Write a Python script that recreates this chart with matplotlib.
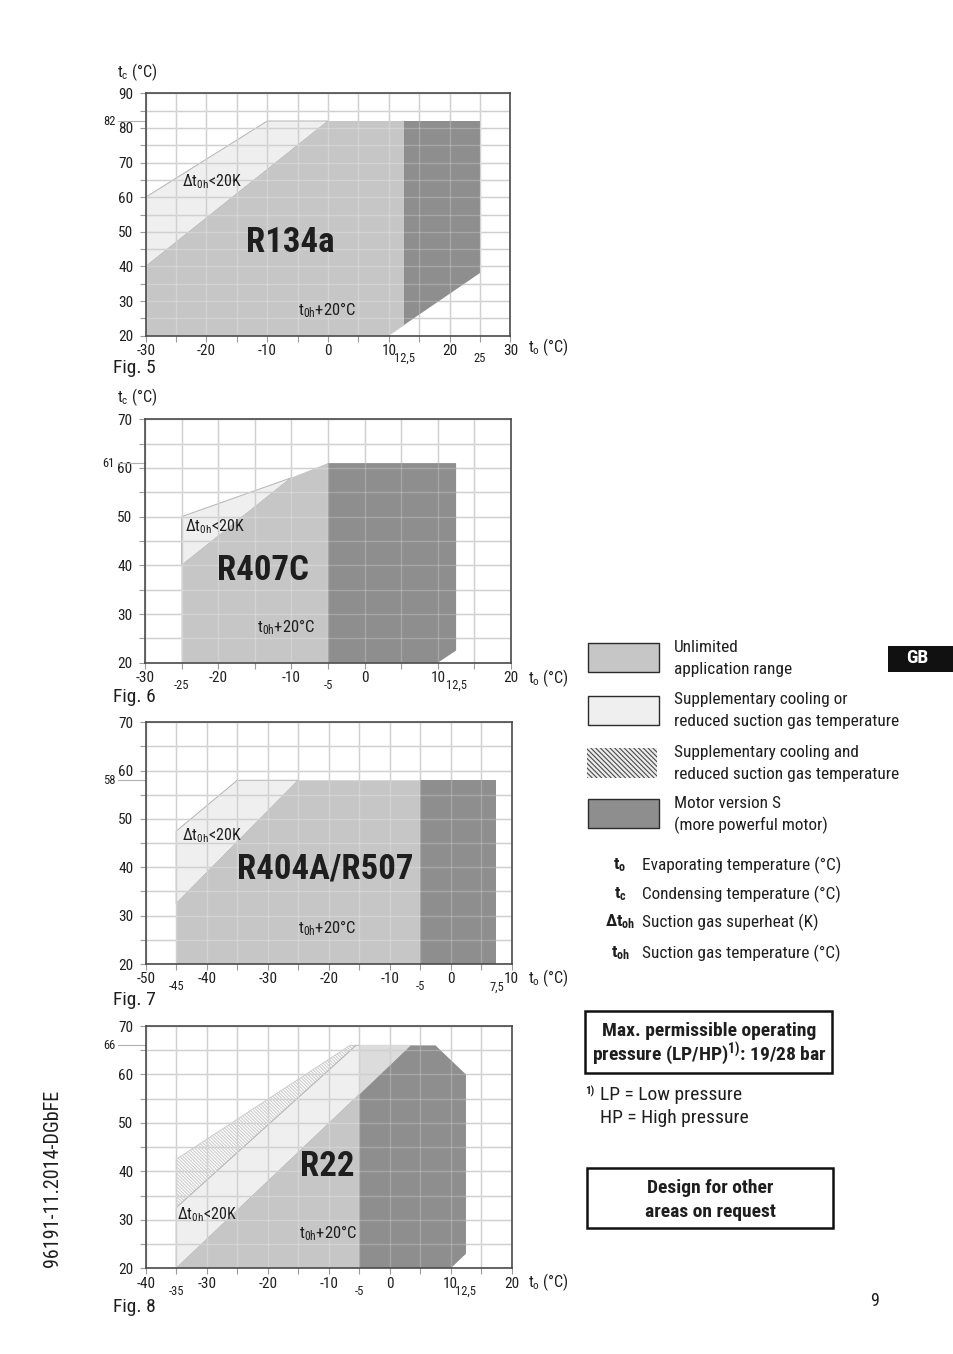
import matplotlib
matplotlib.use('Agg')
import numpy as np
import matplotlib.pyplot as plt
from matplotlib import font_manager
from matplotlib.patches import Polygon, Rectangle
from matplotlib.transforms import blended_transform_factory

# pick a narrow sans face if one exists
fonts = [(f.name, f.stretch) for f in font_manager.fontManager.ttflist]
names = {n for n, _ in fonts}
FONT, STRETCH = 'Roboto', 'normal'
for cand in ('Liberation Sans Narrow', 'Roboto Condensed', 'Open Sans Condensed'):
    if cand in names:
        FONT = cand
        break
else:
    for n, st in fonts:
        if n in ('Roboto', 'DejaVu Sans') and st in ('condensed', 'semi-condensed', 500, 'semicondensed'):
            FONT, STRETCH = n, st
            break

plt.rcParams['font.family'] = [FONT, 'DejaVu Sans']
plt.rcParams['font.stretch'] = STRETCH
plt.rcParams['mathtext.fontset'] = 'custom'
plt.rcParams['mathtext.rm'] = FONT
plt.rcParams['mathtext.it'] = FONT
plt.rcParams['mathtext.bf'] = FONT + ':bold'
plt.rcParams['hatch.linewidth'] = 0.8

W, H = 954, 1354

# shades
UNLIM = '#c6c6c6'
SUPP = '#efefef'
SUPP2 = '#dcdcdc'
MOTOR = '#8e8e8e'
GRID = '#c4c4c4'
INK = '#1e1e1e'

# Fig. 5 - R134a  (t_o, t_c) corner points
r134a_xlim = (-30, 30)
r134a_ylim = (20, 90)
r134a_supp = [(-30, 40), (-30, 60), (-10, 82), (0, 82)]
r134a_unlim = [(-30, 20), (-30, 40), (0, 82), (12.5, 82), (12.5, 23), (10, 20)]
r134a_motor = [(12.5, 23), (12.5, 82), (25, 82), (25, 38)]
r134a_marks = [12.5, 25]
r134a_tcmax = 82

# Fig. 6 - R407C
r407c_xlim = (-30, 20)
r407c_ylim = (20, 70)
r407c_supp = [(-25, 40), (-25, 50), (-10, 58)]
r407c_unlim = [(-25, 20), (-25, 40), (-10, 58), (-5, 61), (-5, 20)]
r407c_motor = [(-5, 20), (-5, 61), (12.5, 61), (12.5, 22.5), (10, 20)]
r407c_marks = [-25, -5, 12.5]
r407c_tcmax = 61

# Fig. 7 - R404A/R507
r404a_xlim = (-50, 10)
r404a_ylim = (20, 70)
r404a_supp = [(-45, 32.5), (-45, 47.5), (-35, 58), (-25, 58)]
r404a_unlim = [(-45, 20), (-45, 32.5), (-25, 58), (-5, 58), (-5, 20)]
r404a_motor = [(-5, 20), (-5, 58), (7.5, 58), (7.5, 20)]
r404a_marks = [-45, -5, 7.5]
r404a_tcmax = 58

# Fig. 8 - R22
r22_xlim = (-40, 20)
r22_ylim = (20, 70)
r22_hatch = [(-35, 32.5), (-35, 42.5), (-6.5, 66), (-5.5, 66)]
r22_supp = [(-35, 20), (-35, 32.5), (-5.5, 66), (3.5, 66)]
r22_supp2 = [(-5, 55.8), (-5, 66), (3.5, 66)]
r22_unlim = [(-35, 20), (-5, 55.8), (-5, 20)]
r22_motor = [(-5, 20), (-5, 55.8), (3.5, 66), (7.5, 66), (12.5, 60), (12.5, 23), (10, 20)]
r22_marks = [-35, -5, 12.5]
r22_tcmax = 66

legend_labels = [
    ('Unlimited', 'application range'),
    ('Supplementary cooling or', 'reduced suction gas temperature'),
    ('Supplementary cooling and', 'reduced suction gas temperature'),
    ('Motor version S', '(more powerful motor)'),
]
symbols = [r't$_\mathbf{o}$', r't$_\mathbf{c}$', r'Δt$_\mathbf{oh}$', r't$_\mathbf{oh}$']
symbol_texts = ['Evaporating temperature (°C)', 'Condensing temperature (°C)',
                'Suction gas superheat (K)', 'Suction gas temperature (°C)']

fig = plt.figure(figsize=(W / 100, H / 100), dpi=100)


def ftext(px, py, s, **kw):
    kw.setdefault('va', 'center')
    kw.setdefault('color', INK)
    fig.text(px / W, 1 - py / H, s, **kw)


def chart(box, xlim, ylim, tcmax, marks):
    left, top, right, bottom = box
    ax = fig.add_axes([left / W, 1 - bottom / H, (right - left) / W, (bottom - top) / H])
    ax.set_xlim(*xlim)
    ax.set_ylim(*ylim)
    xt = np.arange(xlim[0], xlim[1] + 1, 5)
    yt = np.arange(ylim[0], ylim[1] + 1, 5)
    ax.set_xticks(xt)
    ax.set_xticklabels([str(v) if v % 10 == 0 else '' for v in xt])
    ax.set_yticks(yt)
    ax.set_yticklabels([str(v) if v % 10 == 0 else '' for v in yt])
    ax.tick_params(length=4, width=0.8, color='#9a9a9a', labelsize=11, labelcolor=INK)
    ax.tick_params(axis='y', pad=5)
    ax.tick_params(axis='x', pad=2)
    for v in xt:
        ax.axvline(v, color=GRID, lw=1.0, zorder=1)
        ax.axvline(v, color='white', alpha=0.22, lw=1.0, zorder=3)
    for v in yt:
        ax.axhline(v, color=GRID, lw=1.0, zorder=1)
        ax.axhline(v, color='white', alpha=0.22, lw=1.0, zorder=3)
    for s in ax.spines.values():
        s.set_color('#4a4a4a')
        s.set_linewidth(1.2)
        s.set_zorder(6)
    ax.set_facecolor('white')
    tr = blended_transform_factory(ax.transAxes, ax.transData)
    ax.plot([-0.075, 0], [tcmax, tcmax], transform=tr, color='#b0b0b0', lw=0.8, clip_on=False)
    ax.text(-0.1, tcmax, str(tcmax), transform=tr, ha='center', va='center', fontsize=9, color=INK)
    trx = blended_transform_factory(ax.transData, ax.transAxes)
    for v in marks:
        ax.annotate(f'{v:g}'.replace('.', ','), xy=(v, 0), xycoords=trx, xytext=(0, -16.5),
                    textcoords='offset points', ha='center', va='center', fontsize=9, color=INK)
    return ax


def fill(ax, pts, color, z=2, edge='none', **kw):
    ax.add_patch(Polygon(pts, closed=True, facecolor=color, edgecolor=edge, lw=0.7, zorder=z, **kw))


def labels(ax, name, npos, dpos, tpos, size=25):
    ax.text(*npos, name, fontsize=size, fontweight='bold', ha='left', va='center', color=INK, zorder=5)
    ax.text(*dpos, r'Δt$_{\mathregular{0h}}$<20K', fontsize=11.5, ha='left', va='center', color=INK, zorder=5)
    ax.text(*tpos, r't$_{\mathregular{0h}}$+20°C', fontsize=12, ha='left', va='center', color=INK, zorder=5)


# Fig. 5
ax1 = chart((145.7, 93.3, 510.5, 335.7), r134a_xlim, r134a_ylim, r134a_tcmax, r134a_marks)
fill(ax1, r134a_supp, SUPP, z=0.8, edge='#b4b4b4')
fill(ax1, r134a_unlim, UNLIM)
fill(ax1, r134a_motor, MOTOR)
labels(ax1, 'R134a', (-13.5, 47), (-24, 64.4), (-5, 27.4))

# Fig. 6
ax2 = chart((145.0, 419.3, 511.0, 662.7), r407c_xlim, r407c_ylim, r407c_tcmax, r407c_marks)
fill(ax2, r407c_supp, SUPP, z=0.8, edge='#b4b4b4')
fill(ax2, r407c_unlim, UNLIM)
fill(ax2, r407c_motor, MOTOR)
labels(ax2, 'R407C', (-20.1, 39), (-24.5, 47.9), (-14.7, 27.4))

# Fig. 7
ax3 = chart((145.7, 722.3, 511.7, 964.0), r404a_xlim, r404a_ylim, r404a_tcmax, r404a_marks)
fill(ax3, r404a_supp, SUPP, z=0.8, edge='#b4b4b4')
fill(ax3, r404a_unlim, UNLIM)
fill(ax3, r404a_motor, MOTOR)
labels(ax3, 'R404A/R507', (-35.1, 39.6), (-44, 46.5), (-25, 27.4))

# Fig. 8
ax4 = chart((145.7, 1026.0, 511.7, 1268.3), r22_xlim, r22_ylim, r22_tcmax, r22_marks)
fill(ax4, r22_hatch, 'white', z=0.7, edge='#cdcdcd', hatch='\\' * 10)
fill(ax4, r22_supp, SUPP, z=0.8, edge='#b4b4b4')
fill(ax4, r22_supp2, SUPP2, z=0.85)
fill(ax4, r22_unlim, UNLIM)
fill(ax4, r22_motor, MOTOR)
labels(ax4, 'R22', (-14.7, 41), (-34.8, 31), (-14.9, 27.2))

# axis titles and figure captions
for ty in (72, 397):
    ftext(117, ty, r't$_{\mathregular{c}}$ (°C)', fontsize=11.5, ha='left')
for ty in (347, 677.7, 978, 1281.7):
    ftext(528, ty, r't$_{\mathregular{o}}$ (°C)', fontsize=11.5, ha='left')
for num, ty in zip((5, 6, 7, 8), (368.3, 696.7, 1000, 1306.7)):
    ftext(113, ty, f'Fig. {num}', fontsize=14, ha='left')

# legend swatches
sw_colors = [UNLIM, SUPP, None, MOTOR]
sw_top = [643.3, 695.7, 748.3, 799.3]
for (l1, l2), col, top in zip(legend_labels, sw_colors, sw_top):
    if col is None:
        r = Rectangle((586.7 / W, 1 - (top + 30) / H), 70.6 / W, 30 / H, transform=fig.transFigure,
                      facecolor='#ececec', edgecolor='#4a4a4a', lw=0, hatch='\\' * 7)
    else:
        r = Rectangle((588.3 / W, 1 - (top + 29) / H), 70.7 / W, 29 / H, transform=fig.transFigure,
                      facecolor=col, edgecolor='#2a2a2a', lw=1.0)
    fig.add_artist(r)
    ftext(674, top + 4, l1, fontsize=12.4, ha='left')
    ftext(674, top + 26, l2, fontsize=12.4, ha='left')

for sym, txt, ty in zip(symbols, symbol_texts, (865, 894, 922, 953)):
    ftext(620, ty, sym, fontsize=12.5, fontweight='bold', ha='center')
    ftext(642, ty, txt, fontsize=12.4, ha='left')

# GB tab
fig.add_artist(Rectangle((888.3 / W, 1 - 671.7 / H), 66 / W, 25.7 / H, transform=fig.transFigure,
                         facecolor='#111111', edgecolor='none'))
ftext(917, 658, 'GB', fontsize=14, fontweight='bold', color='white', ha='center')

# boxes
fig.add_artist(Rectangle((585 / W, 1 - 1073.3 / H), 247.3 / W, 62.3 / H, transform=fig.transFigure,
                         facecolor='none', edgecolor='#111111', lw=1.8))
ftext(709.3, 1031, 'Max. permissible operating', fontsize=14, fontweight='bold', ha='center')
ftext(709.3, 1054.3, r'pressure (LP/HP)$^{\mathbf{1)}}$: 19/28 bar', fontsize=14, fontweight='bold', ha='center')

ftext(585, 1091, '1)', fontsize=8, fontweight='bold', ha='left')
ftext(600, 1095, 'LP = Low pressure', fontsize=14, ha='left')
ftext(600, 1118.3, 'HP = High pressure', fontsize=14, ha='left')

fig.add_artist(Rectangle((587.3 / W, 1 - 1227.7 / H), 246 / W, 59.4 / H, transform=fig.transFigure,
                         facecolor='none', edgecolor='#111111', lw=1.8))
ftext(710, 1187.7, 'Design for other', fontsize=14, fontweight='bold', ha='center')
ftext(710, 1211.7, 'areas on request', fontsize=14, fontweight='bold', ha='center')

ftext(875, 1301, '9', fontsize=13, ha='center')
ftext(53, 1178, '96191-11.2014-DGbFE', fontsize=14.5, rotation=90, ha='center')

fig.savefig('out.png', dpi=100, facecolor='white')
